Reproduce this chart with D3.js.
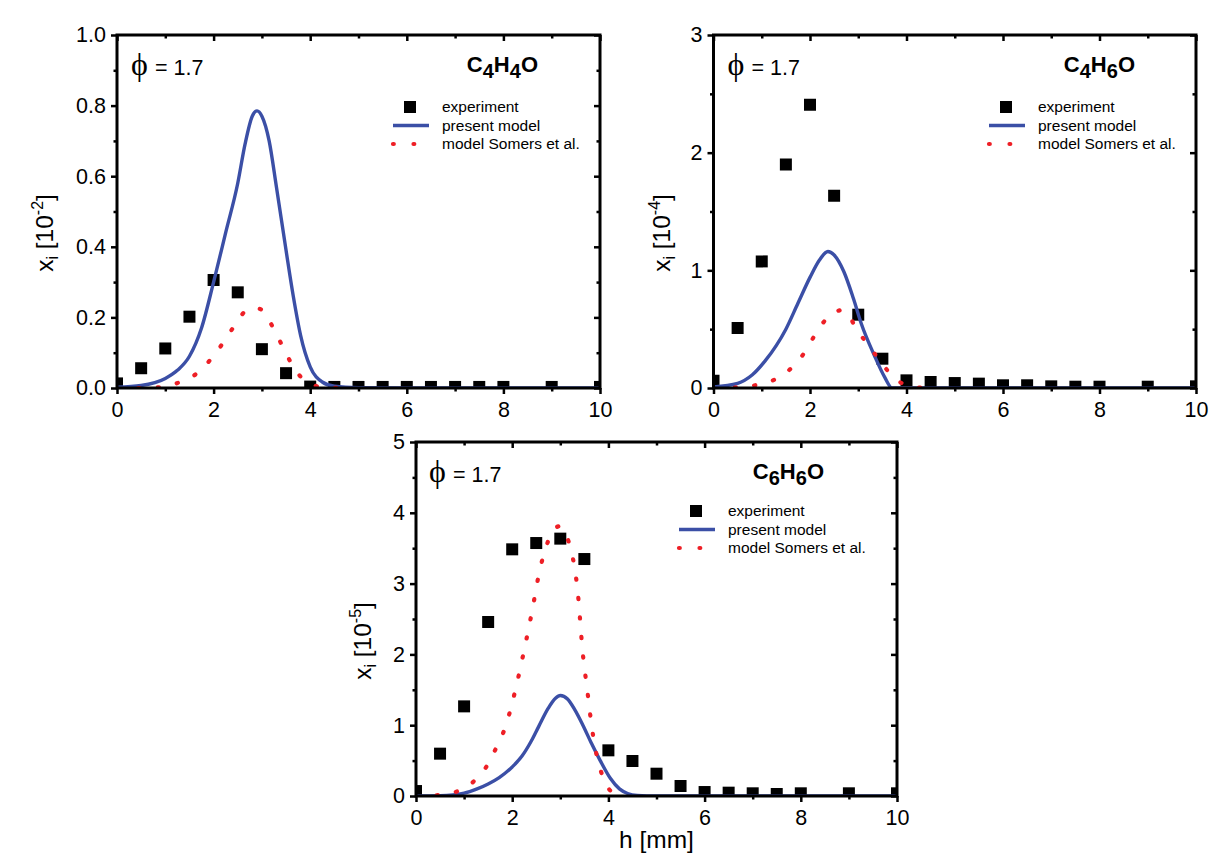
<!DOCTYPE html>
<html><head><meta charset="utf-8">
<script src="https://cdn.jsdelivr.net/npm/d3@7"></script>
<style>body{margin:0;background:#fff}</style>
</head><body><svg id="c" width="1221" height="861"></svg>
<script>
// ---------- data ----------
const xTicks = [0, 2, 4, 6, 8, 10];
const xMinor = [1, 3, 5, 7, 9];
const hExp = [0, 0.5, 1, 1.5, 2, 2.5, 3, 3.5, 4, 4.5, 5, 5.5, 6, 6.5, 7, 7.5, 8, 9, 10];
const legendLabels = ["experiment", "present model", "model Somers et al."];

// C4H4O  (x_i in 10^-2)
const c4h4oExp = [0.013, 0.056, 0.112, 0.202, 0.306, 0.271, 0.110, 0.042, 0.004, 0.003, 0.003, 0.003, 0.003, 0.003, 0.003, 0.003, 0.003, 0.003, 0.003];
const c4h4oModelH = [0, 0.5, 1, 1.25, 1.5, 1.75, 2, 2.25, 2.5, 2.65, 2.8, 2.9, 3.0, 3.15, 3.3, 3.5, 3.65, 3.8, 4, 4.25, 4.5, 5, 6, 10];
const c4h4oModel  = [0.002, 0.007, 0.027, 0.05, 0.09, 0.17, 0.30, 0.44, 0.58, 0.69, 0.77, 0.785, 0.77, 0.70, 0.57, 0.39, 0.26, 0.15, 0.06, 0.017, 0.005, 0.001, 0, 0];
const c4h4oSomersH = [0.44, 0.87, 1.27, 1.63, 1.92, 2.18, 2.43, 2.66, 2.85, 2.99, 3.22, 3.42, 3.61, 3.84, 4.27, 4.6];
const c4h4oSomers  = [0, 0.002, 0.015, 0.039, 0.078, 0.125, 0.176, 0.218, 0.227, 0.222, 0.174, 0.12, 0.07, 0.027, 0.002, 0];
const c4h4oYTicks = [0, 0.2, 0.4, 0.6, 0.8, 1.0];
const c4h4oYMinor = [0.1, 0.3, 0.5, 0.7, 0.9];

// C4H6O  (x_i in 10^-4)
const c4h6oExp = [0.062, 0.51, 1.076, 1.90, 2.407, 1.634, 0.623, 0.249, 0.065, 0.051, 0.042, 0.037, 0.023, 0.023, 0.014, 0.011, 0.011, 0.011, 0.014];
const c4h6oModelH = [0, 0.5, 0.8, 1.07, 1.3, 1.5, 1.75, 2.0, 2.2, 2.37, 2.5, 2.7, 2.9, 3.06, 3.33, 3.55, 3.7, 4, 10];
const c4h6oModel  = [0.01, 0.04, 0.11, 0.23, 0.36, 0.5, 0.72, 0.94, 1.09, 1.16, 1.13, 0.99, 0.76, 0.55, 0.28, 0.09, 0, 0, 0];
const c4h6oSomersH = [0.44, 0.87, 1.26, 1.58, 1.88, 2.11, 2.34, 2.5, 2.66, 2.8, 2.95, 3.2, 3.47, 3.7, 4.06, 4.4];
const c4h6oSomers  = [0.004, 0.024, 0.07, 0.157, 0.298, 0.455, 0.588, 0.64, 0.662, 0.62, 0.51, 0.37, 0.22, 0.105, 0.015, 0];
const c4h6oYTicks = [0, 1, 2, 3];
const c4h6oYMinor = [0.5, 1.5, 2.5];

// C6H6O  (x_i in 10^-5)
const c6h6oExp = [0.07, 0.598, 1.266, 2.458, 3.484, 3.573, 3.635, 3.347, 0.645, 0.494, 0.315, 0.141, 0.056, 0.047, 0.038, 0.028, 0.038, 0.038, 0.038];
const c6h6oModelH = [0, 0.5, 1.0, 1.27, 1.5, 1.73, 2.0, 2.2, 2.4, 2.55, 2.75, 2.9, 3.0, 3.15, 3.3, 3.47, 3.65, 3.83, 4.04, 4.23, 4.4, 4.6, 5, 10];
const c6h6oModel  = [0, 0.005, 0.04, 0.1, 0.17, 0.26, 0.41, 0.56, 0.78, 0.98, 1.24, 1.38, 1.42, 1.37, 1.22, 1.0, 0.74, 0.5, 0.25, 0.1, 0.035, 0.008, 0, 0];
const c6h6oSomersH = [0.43, 0.875, 1.19, 1.46, 1.66, 1.87, 2.06, 2.23, 2.41, 2.57, 2.72, 2.85, 2.98, 3.12, 3.25, 3.36, 3.47, 3.56, 3.65, 3.78, 3.9, 4.05, 4.3];
const c6h6oSomers  = [0.01, 0.07, 0.2, 0.41, 0.67, 1.0, 1.48, 2.0, 2.6, 3.18, 3.55, 3.75, 3.81, 3.68, 3.4, 2.9, 2.0, 1.5, 1.0, 0.5, 0.25, 0.07, 0];
const c6h6oYTicks = [0, 1, 2, 3, 4, 5];
const c6h6oYMinor = [0.5, 1.5, 2.5, 3.5, 4.5];

// ---------- drawing ----------
const FONT = "'Liberation Sans', Arial, Helvetica, sans-serif";
const BLUE = "#3b4fa6";
const RED = "#ee1f26";
const svg = d3.select("#c");
svg.append("rect").attr("width", 1221).attr("height", 861).attr("fill", "#fff");

const zip = (a, b) => a.map((v, i) => [v, b[i]]);

function panel(cfg) {
  const g = svg.append("g").attr("transform", `translate(${cfg.left},${cfg.top})`);
  const x = d3.scaleLinear().domain([0, 10]).range([0, cfg.w]);
  const y = d3.scaleLinear().domain([0, cfg.yMax]).range([cfg.h, 0]);
  const cid = "clip" + cfg.id;
  g.append("clipPath").attr("id", cid).append("rect").attr("width", cfg.w).attr("height", cfg.h);
  const data = g.append("g").attr("clip-path", `url(#${cid})`);

  data.selectAll("path.sq").data(zip(hExp, cfg.exp)).join("path")
    .attr("class", "sq")
    .attr("d", d3.symbol(d3.symbolSquare, 144)())
    .attr("transform", d => `translate(${x(d[0])},${y(d[1])})`)
    .attr("fill", "#000");

  const line = d3.line().x(d => x(d[0])).y(d => y(d[1])).curve(d3.curveMonotoneX);
  data.append("path").datum(zip(cfg.modelH, cfg.model))
    .attr("d", line).attr("fill", "none").attr("stroke", BLUE).attr("stroke-width", 3.4);
  data.append("path").datum(zip(cfg.somersH, cfg.somers))
    .attr("d", line).attr("fill", "none").attr("stroke", RED).attr("stroke-width", 4.2)
    .attr("stroke-linecap", "round").attr("stroke-dasharray", "1.2 18.3");

  const styleAxis = sel => {
    sel.select(".domain").remove();
    sel.selectAll(".tick line").attr("stroke", "#000").attr("stroke-width", 2.5);
    sel.selectAll(".tick text").attr("fill", "#000").attr("font-family", FONT).attr("font-size", 21.5);
  };
  g.append("g").attr("transform", `translate(0,${cfg.h})`)
    .call(d3.axisBottom(x).tickValues(xTicks).tickFormat(d3.format("d")).tickSize(6).tickPadding(8)).call(styleAxis);
  g.append("g").attr("transform", `translate(0,${cfg.h})`)
    .call(d3.axisBottom(x).tickValues(xMinor).tickFormat("").tickSize(3.5)).call(styleAxis);
  g.append("g").call(d3.axisTop(x).tickValues(xTicks).tickFormat("").tickSize(-6)).call(styleAxis);
  g.append("g").call(d3.axisTop(x).tickValues(xMinor).tickFormat("").tickSize(-3.5)).call(styleAxis);
  g.append("g")
    .call(d3.axisLeft(y).tickValues(cfg.yTicks).tickFormat(d3.format(cfg.fmt)).tickSize(6).tickPadding(5)).call(styleAxis);
  g.append("g").call(d3.axisLeft(y).tickValues(cfg.yMinor).tickFormat("").tickSize(3.5)).call(styleAxis);
  g.append("g").attr("transform", `translate(${cfg.w},0)`)
    .call(d3.axisRight(y).tickValues(cfg.yTicks).tickFormat("").tickSize(-6)).call(styleAxis);
  g.append("g").attr("transform", `translate(${cfg.w},0)`)
    .call(d3.axisRight(y).tickValues(cfg.yMinor).tickFormat("").tickSize(-3.5)).call(styleAxis);
  g.append("rect").attr("width", cfg.w).attr("height", cfg.h)
    .attr("fill", "none").attr("stroke", "#000").attr("stroke-width", 3);

  g.append("text").attr("x", cfg.phiX).attr("y", cfg.hdrY).attr("font-family", "'Liberation Serif', 'Times New Roman', serif")
    .attr("font-size", 32).attr("fill", "#000").text("\u03D5");
  g.append("text").attr("x", cfg.phiX + 24).attr("y", cfg.hdrY).attr("font-family", FONT)
    .attr("font-size", 21.5).attr("fill", "#000").text("= 1.7");

  const f = g.append("text").attr("x", cfg.w - cfg.fRight).attr("y", cfg.hdrY - 3)
    .attr("text-anchor", "end").attr("font-family", FONT).attr("font-weight", "bold")
    .attr("font-size", 22).attr("fill", "#000");
  cfg.formula.forEach(p => {
    const t = f.append("tspan").text(p[0]);
    if (p[1]) t.attr("dy", 6).attr("font-size", 20);
    else t.attr("dy", p[2] ? -6 : 0);
  });

  const lx = cfg.w - cfg.legRight;
  const lg = g.append("g").attr("font-family", FONT).attr("font-size", 15.5).attr("fill", "#000");
  legendLabels.forEach((lab, i) => {
    lg.append("text").attr("x", lx).attr("y", cfg.legY + i * 18.5).text(lab);
  });
  const cy = i => cfg.legY + i * 18.5 - 5;
  lg.append("path").attr("d", d3.symbol(d3.symbolSquare, 144)())
    .attr("transform", `translate(${lx - 32},${cy(0)})`).attr("fill", "#000");
  lg.append("line").attr("x1", lx - 49).attr("x2", lx - 13).attr("y1", cy(1)).attr("y2", cy(1))
    .attr("stroke", BLUE).attr("stroke-width", 3.4);
  lg.append("line").attr("x1", lx - 49).attr("x2", lx - 13).attr("y1", cy(2)).attr("y2", cy(2))
    .attr("stroke", RED).attr("stroke-width", 4.2).attr("stroke-linecap", "round").attr("stroke-dasharray", "0.8 19.7");

  const yl = g.append("text").attr("transform", `translate(${cfg.ylX},${cfg.ylY}) rotate(-90)`)
    .attr("text-anchor", "middle").attr("font-family", FONT).attr("font-size", 24.5).attr("fill", "#000");
  yl.append("tspan").text("x");
  yl.append("tspan").attr("font-size", 16).attr("dy", 5).text("i");
  yl.append("tspan").attr("dy", -5).text(" [10");
  yl.append("tspan").attr("font-size", 16).attr("dy", -10).text(cfg.exponent);
  yl.append("tspan").attr("dy", 10).text("]");

  if (cfg.xlabel) {
    g.append("text").attr("x", cfg.w / 2).attr("y", cfg.h + 52).attr("text-anchor", "middle")
      .attr("font-family", FONT).attr("font-size", 24.5).attr("fill", "#000").text(cfg.xlabel);
  }
}

panel({ id: 1, left: 117, top: 35, w: 483, h: 353, yMax: 1.0, fmt: ".1f",
  yTicks: c4h4oYTicks, yMinor: c4h4oYMinor, exp: c4h4oExp,
  modelH: c4h4oModelH, model: c4h4oModel, somersH: c4h4oSomersH, somers: c4h4oSomers,
  phiX: 14, hdrY: 40, fRight: 62, legRight: 158, legY: 77, ylX: -64, ylY: 198, exponent: "-2",
  formula: [["C"], ["4", true], ["H", false, true], ["4", true], ["O", false, true]] });

panel({ id: 2, left: 713.5, top: 35, w: 482.5, h: 353, yMax: 3, fmt: "d",
  yTicks: c4h6oYTicks, yMinor: c4h6oYMinor, exp: c4h6oExp,
  modelH: c4h6oModelH, model: c4h6oModel, somersH: c4h6oSomersH, somers: c4h6oSomers,
  phiX: 14, hdrY: 40, fRight: 61, legRight: 158, legY: 77, ylX: -44, ylY: 198, exponent: "-4",
  formula: [["C"], ["4", true], ["H", false, true], ["6", true], ["O", false, true]] });

panel({ id: 3, left: 416, top: 442, w: 481, h: 354, yMax: 5, fmt: "d",
  yTicks: c6h6oYTicks, yMinor: c6h6oYMinor, exp: c6h6oExp,
  modelH: c6h6oModelH, model: c6h6oModel, somersH: c6h6oSomersH, somers: c6h6oSomers,
  phiX: 13, hdrY: 40, fRight: 73, legRight: 169, legY: 74, ylX: -45, ylY: 199, exponent: "-5",
  formula: [["C"], ["6", true], ["H", false, true], ["6", true], ["O", false, true]],
  xlabel: "h [mm]" });
</script>
</body></html>
